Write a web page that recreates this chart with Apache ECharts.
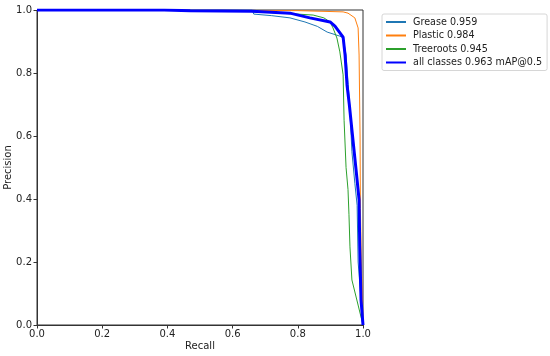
<!DOCTYPE html>
<html><head><meta charset="utf-8">
<script src="https://cdn.jsdelivr.net/npm/echarts@6/dist/echarts.min.js"></script>
<style>html,body{margin:0;padding:0;background:#fff}#c{width:550px;height:356px}</style>
</head><body><div id="c"></div>
<script>
const xTicks = [0, 0.2, 0.4, 0.6, 0.8, 1.0];
const yTicks = [0, 0.2, 0.4, 0.6, 0.8, 1.0];
const seriesNames = ['Grease 0.959', 'Plastic 0.984', 'Treeroots 0.945', 'all classes 0.963 mAP@0.5'];
const grease = [[0,1],[0.66,1.0],[0.665,0.987],[0.72,0.982],[0.776,0.975],[0.822,0.962],[0.86,0.948],[0.89,0.93],[0.929,0.917],[0.939,0.911],[0.948,0.857],[0.954,0.771],[0.96,0.68],[0.966,0.55],[0.975,0.45],[0.982,0.38],[0.985,0.2],[1.0,0]];
const plastic = [[0,1],[0.8,0.998],[0.939,0.994],[0.954,0.99],[0.975,0.975],[0.985,0.943],[0.988,0.857],[0.991,0.6],[0.992,0.37],[0.995,0.2],[1.0,0]];
const treeroots = [[0,1],[0.6,0.998],[0.75,0.99],[0.847,0.984],[0.88,0.975],[0.899,0.962],[0.908,0.943],[0.92,0.911],[0.929,0.867],[0.939,0.794],[0.942,0.65],[0.948,0.5],[0.954,0.43],[0.957,0.35],[0.96,0.248],[0.966,0.143],[1.0,0]];
const allClasses = [[0,1],[0.39,1.0],[0.47,0.998],[0.66,0.996],[0.776,0.99],[0.837,0.975],[0.899,0.962],[0.914,0.949],[0.939,0.914],[0.945,0.857],[0.951,0.762],[0.958,0.7],[0.966,0.619],[0.98,0.48],[0.988,0.397],[0.99,0.25],[0.994,0.079],[1.0,0]];
const colors = ['#1f77b4', '#ff7f0e', '#2ca02c', '#0000ff'];
const widths = [1, 1, 1, 3];
const datasets = [grease, plastic, treeroots, allClasses];

const font = 'DejaVu Sans';
const axisCommon = {
  type: 'value', min: 0, max: 1, interval: 0.2,
  axisLine: { show: true, lineStyle: { color: '#333', width: 1 } },
  axisTick: { show: true, length: 3.5, lineStyle: { color: '#333', width: 1 } },
  splitLine: { show: false },
  axisLabel: { fontFamily: font, fontSize: 10, color: '#222', formatter: v => v.toFixed(1) },
  nameLocation: 'middle',
  nameMoveOverlap: false,
  nameTextStyle: { fontFamily: font, fontSize: 10, color: '#222' }
};
const chart = echarts.init(document.getElementById('c'), null, { renderer: 'canvas' });
chart.setOption({
  animation: false,
  backgroundColor: '#fff',
  grid: { left: 37, right: 187, top: 10, bottom: 31, containLabel: false, outerBoundsMode: 'none', show: true, borderColor: '#333', borderWidth: 1, backgroundColor: 'transparent' },
  xAxis: Object.assign({}, axisCommon, { name: 'Recall', nameGap: 16, axisLabel: Object.assign({}, axisCommon.axisLabel, { margin: 4 }) }),
  yAxis: Object.assign({}, axisCommon, { name: 'Precision', nameGap: 24, axisLabel: Object.assign({}, axisCommon.axisLabel, { margin: 5 }) }),
  legend: {
    orient: 'vertical', left: 382, top: 14,
    padding: [3, 5, 3, 3], itemGap: 3.5, itemWidth: 20, itemHeight: 10,
    borderColor: '#d6d6d6', borderWidth: 1, borderRadius: 2,
    itemStyle: { opacity: 0, borderWidth: 0 },
    textStyle: { fontFamily: font, fontSize: 9.6, color: '#222', padding: [0, 0, 0, 2] },
    data: seriesNames
  },
  series: datasets.map((d, i) => ({
    name: seriesNames[i], type: 'line', data: d, showSymbol: false, symbol: 'none',
    lineStyle: { color: colors[i], width: widths[i] }, itemStyle: { color: colors[i] },
    z: 2 + i
  }))
});
</script></body></html>
